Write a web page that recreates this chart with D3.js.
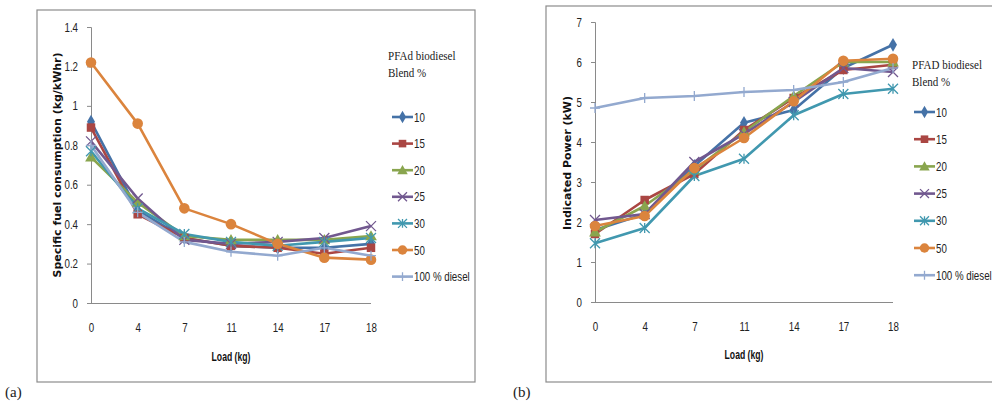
<!DOCTYPE html>
<html><head><meta charset="utf-8">
<script src="https://cdn.jsdelivr.net/npm/d3@7"></script>
<style>body{margin:0;background:#fff;} svg{display:block;}</style>
</head><body>
<script>
const loads = ["0","4","7","11","14","17","18"];
const seriesNames = ["10","15","20","25","30","50","100 % diesel"];
const colors = ["#4572A7","#AA4643","#89A54E","#71588F","#4198AF","#DB843D","#93A9CF"];
const markers = ["diamond","square","triangle","x","asterisk","circle","plus"];

// (a) Specific fuel consumption (kg/kWhr)
const sfc10 = [0.92,0.47,0.33,0.29,0.28,0.28,0.30];
const sfc15 = [0.89,0.45,0.33,0.29,0.28,0.25,0.28];
const sfc20 = [0.74,0.51,0.34,0.32,0.32,0.32,0.34];
const sfc25 = [0.82,0.53,0.32,0.30,0.31,0.33,0.39];
const sfc30 = [0.77,0.48,0.35,0.31,0.29,0.31,0.33];
const sfc50 = [1.22,0.91,0.48,0.40,0.30,0.23,0.22];
const sfcDiesel = [0.80,0.46,0.31,0.26,0.24,0.28,0.24];
const sfcTicks = [0,0.2,0.4,0.6,0.8,1,1.2,1.4];

// (b) Indicated power (kW)
const ip10 = [1.80,2.20,3.40,4.48,4.80,5.85,6.43];
const ip15 = [1.70,2.55,3.20,4.30,5.10,5.80,5.93];
const ip20 = [1.75,2.40,3.30,4.25,5.15,6.00,6.00];
const ip25 = [2.05,2.20,3.50,4.20,5.00,5.85,5.75];
const ip30 = [1.47,1.85,3.15,3.58,4.67,5.20,5.33];
const ip50 = [1.90,2.15,3.35,4.10,5.02,6.03,6.08];
const ipDiesel = [4.85,5.10,5.15,5.25,5.30,5.50,5.85];
const ipTicks = [0,1,2,3,4,5,6,7];

const svg = d3.select("body").append("svg").attr("width",992).attr("height",406);

const sansFont = "'Liberation Sans',Arial,sans-serif";
const titleFont = "'DejaVu Sans',Verdana,sans-serif";
const serifFont = "'Liberation Serif','Times New Roman',serif";
const SQ = 0.78; // horizontal squeeze for the narrow Calibri-like look

function ctext(parent, x, y, str, opts) {
  const f = opts.squeeze || SQ;
  const t = parent.append("g").attr("transform",`translate(${x},${y}) scale(${f},1)`)
    .append("text").text(str)
    .attr("font-family",opts.family || sansFont)
    .attr("font-size",opts.size || 12)
    .attr("fill",opts.fill || "#222")
    .attr("text-anchor",opts.anchor || "start");
  if (opts.weight) t.attr("font-weight",opts.weight);
  return t;
}

function drawMarker(g, type, x, y, color, s) {
  s = s || 1;
  if (type === "diamond") {
    g.append("path").attr("d", d3.symbol(d3.symbolDiamond, 55*s)()).attr("transform",`translate(${x},${y})`).attr("fill",color);
  } else if (type === "square") {
    g.append("path").attr("d", d3.symbol(d3.symbolSquare, 72*s)()).attr("transform",`translate(${x},${y})`).attr("fill",color);
  } else if (type === "triangle") {
    g.append("path").attr("d", d3.symbol(d3.symbolTriangle, 60*s)()).attr("transform",`translate(${x},${y+1})`).attr("fill",color);
  } else if (type === "circle") {
    g.append("circle").attr("cx",x).attr("cy",y).attr("r",5.3*Math.sqrt(s)).attr("fill",color);
  } else if (type === "x") {
    const r = 5*Math.sqrt(s);
    g.append("path").attr("d",`M${x-r},${y-r}L${x+r},${y+r}M${x-r},${y+r}L${x+r},${y-r}`).attr("stroke",color).attr("stroke-width",1.3).attr("fill","none");
  } else if (type === "asterisk") {
    const r = 5*Math.sqrt(s);
    g.append("path").attr("d",`M${x-r},${y-r}L${x+r},${y+r}M${x-r},${y+r}L${x+r},${y-r}M${x},${y-r}L${x},${y+r}`).attr("stroke",color).attr("stroke-width",1.3).attr("fill","none");
  } else if (type === "plus") {
    const r = 5*Math.sqrt(s);
    g.append("path").attr("d",`M${x-r},${y}L${x+r},${y}M${x},${y-r}L${x},${y+r}`).attr("stroke",color).attr("stroke-width",1.3).attr("fill","none");
  }
}

function panel(cfg) {
  const g = svg.append("g");
  // frame
  g.append("rect").attr("x",cfg.frame[0]).attr("y",cfg.frame[1]).attr("width",cfg.frame[2]).attr("height",cfg.frame[3])
    .attr("fill","none").attr("stroke","#8c8c8c").attr("stroke-width",1.2);
  g.append("text").attr("x",cfg.label[0]).attr("y",cfg.label[1]).text(cfg.labelText)
    .attr("font-family",serifFont).attr("font-size",15).attr("fill","#222");

  const x = d3.scalePoint().domain(loads).range([cfg.x0, cfg.x1]);
  const y = d3.scaleLinear().domain([cfg.ticks[0], cfg.ticks[cfg.ticks.length-1]]).range([cfg.y0, cfg.y1]);

  // y axis
  const ya = g.append("g").attr("transform",`translate(${cfg.x0},0)`)
    .call(d3.axisLeft(y).tickValues(cfg.ticks).tickSize(4).tickPadding(9).tickFormat(d=>String(d)));
  ya.select(".domain").attr("stroke","#8a8a8a");
  ya.selectAll(".tick line").attr("stroke","#8a8a8a");
  ya.selectAll("text").attr("font-family",sansFont).attr("font-size",12.5).attr("fill","#222")
    .attr("transform",`scale(${SQ},1)`).attr("x",-13/SQ);
  // x axis
  const xa = g.append("g").attr("transform",`translate(0,${cfg.y0})`)
    .call(d3.axisBottom(x).tickSize(0).tickPadding(20));
  xa.select(".domain").attr("stroke","#8a8a8a").attr("d",`M${cfg.x0},0.5H${cfg.x1}`);
  xa.selectAll("text").attr("font-family",sansFont).attr("font-size",12.5).attr("fill","#222")
    .attr("transform",`scale(${SQ},1)`);

  // axis titles
  ctext(g,(cfg.x0+cfg.x1)/2, cfg.xTitleY, "Load (kg)", {anchor:"middle", weight:"bold", size:12, fill:"#111", squeeze:0.72});
  g.append("text").attr("transform",`translate(${cfg.yTitleX},${cfg.yTitleCY}) rotate(-90)`).attr("text-anchor","middle")
    .attr("font-family",titleFont).attr("font-weight","bold").attr("font-size",10.5).attr("fill","#111")
    .attr("x",-cfg.yTitleLen/2).attr("text-anchor","start")
    .attr("textLength",cfg.yTitleLen).attr("lengthAdjust","spacingAndGlyphs")
    .text(cfg.yTitle);

  // lines
  const line = d3.line().x((d,i)=>x(loads[i])).y(d=>y(d));
  cfg.series.forEach((vals,si)=>{
    g.append("path").datum(vals).attr("d",line).attr("fill","none").attr("stroke",colors[si]).attr("stroke-width",2.6)
      .attr("stroke-linejoin","round");
  });
  cfg.series.forEach((vals,si)=>{
    vals.forEach((v,i)=>drawMarker(g, markers[si], x(loads[i]), y(v), colors[si]));
  });

  // legend
  ctext(g, cfg.legX, cfg.legTitleY, cfg.legTitle, {family:serifFont, size:13, squeeze:0.85});
  ctext(g, cfg.legX, cfg.legTitleY+17, "Blend %", {family:serifFont, size:13, squeeze:0.85});
  seriesNames.forEach((n,si)=>{
    const ly = cfg.legY0 + si*cfg.legStep;
    g.append("line").attr("x1",cfg.legLineX).attr("x2",cfg.legLineX+21).attr("y1",ly).attr("y2",ly)
      .attr("stroke",colors[si]).attr("stroke-width",2.6);
    drawMarker(g, markers[si], cfg.legLineX+10.5, ly, colors[si], 0.8);
    ctext(g, cfg.legLineX+22, ly+4.5, n, {size:12.5});
  });
}

panel({
  frame:[37,10,438,372], label:[5,397], labelText:"(a)",
  x0:91, x1:371, y0:303, y1:27, ticks:sfcTicks,
  xTitleY:361, yTitleX:61, yTitleCY:165, yTitleLen:225,
  yTitle:"Specific fuel consumption (kg/kWhr)",
  series:[sfc10,sfc15,sfc20,sfc25,sfc30,sfc50,sfcDiesel],
  legX:388, legTitleY:60, legTitle:"PFAd biodiesel",
  legLineX:392, legY0:117, legStep:26.6
});
panel({
  frame:[546,6,450,376], label:[513,397], labelText:"(b)",
  x0:595, x1:893, y0:302, y1:22, ticks:ipTicks,
  xTitleY:359, yTitleX:571, yTitleCY:163, yTitleLen:134,
  yTitle:"Indicated Power (kW)",
  series:[ip10,ip15,ip20,ip25,ip30,ip50,ipDiesel],
  legX:912, legTitleY:69, legTitle:"PFAD biodiesel",
  legLineX:914, legY0:112, legStep:27.2
});
</script>
</body></html>
